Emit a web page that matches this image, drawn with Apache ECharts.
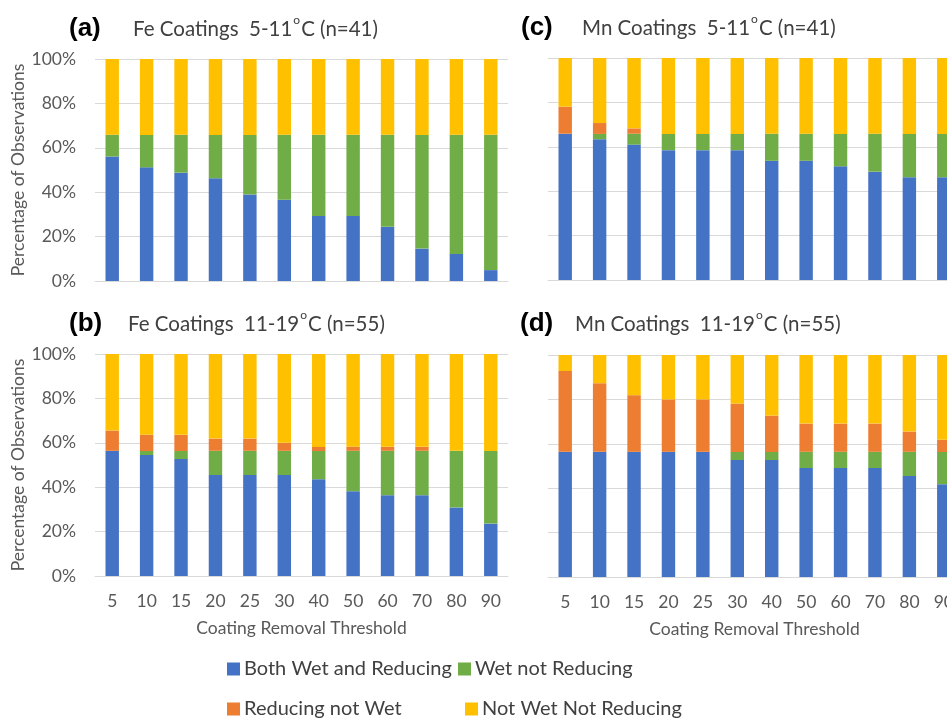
<!DOCTYPE html>
<html>
<head>
<meta charset="utf-8">
<script src="https://cdn.jsdelivr.net/npm/echarts@6/dist/echarts.min.js"></script>
<style>
html,body{margin:0;padding:0;background:#fff;overflow:hidden;}
#chart{width:990px;height:722px;}
</style>
</head>
<body>
<div id="chart"></div>
<script>
// ---- Data (percent of observations) ----
const categories = ['5','10','15','20','25','30','40','50','60','70','80','90'];
const seriesNames = ['Both Wet and Reducing','Wet not Reducing','Reducing not Wet','Not Wet Not Reducing'];
const panelTitles = ['Fe Coatings  5-11', 'Mn Coatings  5-11', 'Fe Coatings  11-19', 'Mn Coatings  11-19'];
const panelTitleTails = ['C (n=41)', 'C (n=41)', 'C (n=55)', 'C (n=55)'];
const panelLetters = ['(a)', '(c)', '(b)', '(d)'];

// (a) Fe 5-11
const aBoth = [56.1,51.2,48.8,46.3,39.0,36.6,29.3,29.3,24.4,14.6,12.2,4.9];
const aWet  = [9.8,14.6,17.1,19.5,26.8,29.3,36.6,36.6,41.5,51.2,53.7,61.0];
const aRed  = [0,0,0,0,0,0,0,0,0,0,0,0];
const aNot  = [34.1,34.2,34.1,34.2,34.2,34.1,34.1,34.1,34.1,34.2,34.1,34.1];
// (c) Mn 5-11
const cBoth = [65.9,63.4,61.0,58.5,58.5,58.5,53.7,53.7,51.2,48.8,46.3,46.3];
const cWet  = [0,2.4,4.9,7.3,7.3,7.3,12.2,12.2,14.6,17.1,19.5,19.5];
const cRed  = [12.2,4.9,2.4,0,0,0,0,0,0,0,0,0];
const cNot  = [21.9,29.3,31.7,34.2,34.2,34.2,34.1,34.1,34.2,34.1,34.2,34.2];
// (b) Fe 11-19
const bBoth = [56.4,54.5,52.7,45.5,45.5,45.5,43.6,38.2,36.4,36.4,30.9,23.6];
const bWet  = [0,1.8,3.6,10.9,10.9,10.9,12.7,18.2,20.0,20.0,25.5,32.7];
const bRed  = [9.1,7.3,7.3,5.5,5.5,3.6,1.8,1.8,1.8,1.8,0,0];
const bNot  = [34.5,36.4,36.4,38.1,38.1,40.0,41.9,41.8,41.8,41.8,43.6,43.7];
// (d) Mn 11-19
const dBoth = [56.4,56.4,56.4,56.4,56.4,52.7,52.7,49.1,49.1,49.1,45.5,41.8];
const dWet  = [0,0,0,0,0,3.6,3.6,7.3,7.3,7.3,10.9,14.5];
const dRed  = [36.4,30.9,25.5,23.6,23.6,21.8,16.4,12.7,12.7,12.7,9.1,5.5];
const dNot  = [7.2,12.7,18.1,20.0,20.0,21.9,27.3,30.9,30.9,30.9,34.5,38.2];

const panels = [
  [aBoth, aWet, aRed, aNot],
  [cBoth, cWet, cRed, cNot],
  [bBoth, bWet, bRed, bNot],
  [dBoth, dWet, dRed, dNot]
];

// ---- Styling / layout ----
const colors = ['#4472C4', '#70AD47', '#ED7D31', '#FFC000'];
const FONT = 'Lato';
const gridDefs = [
  {left: 95,  top: 59,  width: 413, height: 222},
  {left: 548, top: 58,  width: 413, height: 222},
  {left: 95,  top: 354, width: 413, height: 222},
  {left: 548, top: 355, width: 413, height: 222}
];
const titlePos = [
  {letterX: 69, textX: 133, y: 14},
  {letterX: 521, textX: 582, y: 13},
  {letterX: 69, textX: 128, y: 309},
  {letterX: 520, textX: 575, y: 309}
];

const grid = gridDefs.map(g => Object.assign({containLabel: false}, g));
const xAxis = gridDefs.map((g, i) => ({
  type: 'category', gridIndex: i, data: categories,
  axisLine: {lineStyle: {color: '#D9D9D9', width: 1}},
  axisTick: {show: false},
  axisLabel: {show: i >= 2, color: '#595959', fontSize: 17.5, fontFamily: FONT, margin: 16},
  name: i >= 2 ? 'Coating Removal Threshold' : '',
  nameLocation: 'middle', nameGap: 43,
  nameTextStyle: {color: '#595959', fontSize: 17.5, fontFamily: FONT}
}));
const yAxis = gridDefs.map((g, i) => ({
  type: 'value', gridIndex: i, min: 0, max: 100, interval: 20,
  axisLine: {show: false}, axisTick: {show: false},
  splitLine: {lineStyle: {color: '#D9D9D9', width: 1}},
  axisLabel: {show: i % 2 === 0, formatter: '{value}%', color: '#595959', fontSize: 17.5, fontFamily: FONT, margin: 19},
  name: i % 2 === 0 ? 'Percentage of Observations' : '',
  nameLocation: 'middle', nameRotate: 90, nameGap: 66,
  nameTextStyle: {color: '#595959', fontSize: 17.5, fontFamily: FONT}
}));

const series = [];
panels.forEach((p, pi) => {
  p.forEach((vals, si) => {
    series.push({
      type: 'bar', name: seriesNames[si], stack: 'p' + pi,
      xAxisIndex: pi, yAxisIndex: pi, data: vals,
      barWidth: '39%', itemStyle: {color: colors[si]},
      silent: true, animation: false
    });
  });
});

const graphic = [];
titlePos.forEach((t, i) => {
  graphic.push({
    type: 'text', left: t.letterX, top: t.y + 2,
    style: {text: panelLetters[i], font: 'bold 26px "Liberation Sans", Arial, sans-serif', fill: '#000'}
  });
  graphic.push({
    type: 'text', left: t.textX, top: t.y,
    style: {
      text: '{n|' + panelTitles[i] + '}{s|o}{n|' + panelTitleTails[i] + '}',
      rich: {
        n: {fontSize: 20.5, fontFamily: FONT, fill: '#404040', lineHeight: 26, verticalAlign: 'bottom'},
        s: {fontSize: 12, fontFamily: FONT, fill: '#404040', lineHeight: 12, verticalAlign: 'top', padding: [0, 1, 0, 1]}
      }
    }
  });
});

const legendPos = [
  {left: 227, top: 659},
  {left: 458, top: 659},
  {left: 227, top: 699},
  {left: 465, top: 699}
];
const legend = seriesNames.map((n, i) => ({
  data: [n], left: legendPos[i].left, top: legendPos[i].top,
  padding: 0,
  itemWidth: 13, itemHeight: 13, itemGap: 0, icon: 'rect',
  selectedMode: false,
  textStyle: {fontSize: 20, fontFamily: FONT, color: '#404040', padding: [0, 0, 0, -1]}
}));

const chart = echarts.init(document.getElementById('chart'), null, {renderer: 'canvas'});
chart.setOption({
  animation: false,
  color: colors,
  grid, xAxis, yAxis, series, legend, graphic
});
</script>
</body>
</html>
